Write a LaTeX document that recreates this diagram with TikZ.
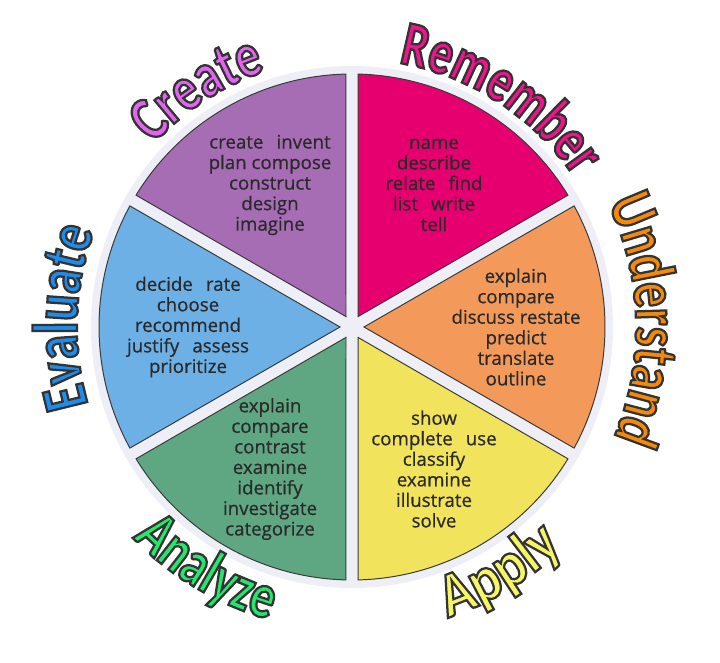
\documentclass[tikz,border=0pt]{standalone}
\usepackage{fontspec}
\setmainfont{Open Sans}
\newfontfamily\verbfont{Open Sans}[FakeBold=0.6]
\newfontfamily\levelfont{Carlito}
\usetikzlibrary{decorations.text}
\definecolor{ringc}{HTML}{EDEEF6}
\definecolor{wedgeline}{HTML}{3A3A3A}
\definecolor{verbtext}{HTML}{2A2A2A}
\definecolor{remc}{HTML}{E6006F}
\definecolor{crec}{HTML}{A66CB4}
\definecolor{evac}{HTML}{6CB0E6}
\definecolor{anac}{HTML}{5FA782}
\definecolor{appc}{HTML}{F2E35C}
\definecolor{undc}{HTML}{F39A5B}
\definecolor{remt}{HTML}{F0148C}
\definecolor{cret}{HTML}{E066F0}
\definecolor{evat}{HTML}{1E8CEB}
\definecolor{anat}{HTML}{22E86E}
\definecolor{appt}{HTML}{F5F566}
\definecolor{undt}{HTML}{F58A0A}
\newcommand\gap{\hspace{0.7em}}
% dark outline round the coloured letters (fill + stroke)
\newcommand\outlined{\special{pdf:literal direct 2 Tr 1.6 w 0.2 0.2 0.2 RG}}

\begin{document}
\begin{tikzpicture}[x=0.025cm,y=0.025cm,
  wedge/.style={draw=wedgeline,line width=0.7pt},
  verbs/.style={font=\verbfont\fontsize{13.3}{14.6}\selectfont,text=verbtext,align=center},
  levelname/.style n args={3}{decorate,decoration={text along path,text align=center,
    text={|\fontsize{45}{45}\levelfont\bfseries\addfontfeature{FakeStretch=#3}\color{#2}\outlined|#1}}}]
  \useasboundingbox (0,0) rectangle (720,662);
  \begin{scope}[shift={(352,335)}]
    \fill[ringc] (0,0) circle (261);
    % six wedges, 60 degrees each
    \foreach \name/\a/\col/\txt in {
      remember/30/remc/{name\\describe\\relate\gap find\\list\gap write\\tell},
      create/90/crec/{create\gap invent\\plan compose\\construct\\design\\imagine},
      evaluate/150/evac/{decide\gap rate\\choose\\recommend\\justify\gap assess\\prioritize},
      analyze/210/anac/{explain\\compare\\contrast\\examine\\identify\\investigate\\categorize},
      apply/270/appc/{show\\complete\gap use\\classify\\examine\\illustrate\\solve},
      understand/330/undc/{explain\\compare\\discuss restate\\predict\\translate\\outline}} {
      \draw[wedge,fill=\col] ({\a+30}:12) -- ({\a+1.4}:253)
        arc[start angle={\a+1.4}, end angle={\a+58.6}, radius=253] -- cycle;
      \node[verbs] (v-\name) at ({\a+30}:164) {\txt};
    }
    % level names round the wheel
    \path[levelname={Remember}{remt}{0.74}] (97:268) arc[start angle=97, end angle=17, radius=268];
    \path[levelname={Create}{cret}{0.78}] (163:270) arc[start angle=163, end angle=83, radius=270];
    \path[levelname={Evaluate}{evat}{0.78}] (218:275) arc[start angle=218, end angle=138, radius=275];
    \path[levelname={Understand}{undt}{0.78}] (41.5:284) arc[start angle=41.5, end angle=-38.5, radius=284];
    \path[levelname={Analyze}{anat}{0.78}] (-161:304) arc[start angle=-161, end angle=-81, radius=304];
    \path[levelname={Apply}{appt}{0.9}] (-99:306) arc[start angle=-99, end angle=-19, radius=306];
  \end{scope}
\end{tikzpicture}
\end{document}
